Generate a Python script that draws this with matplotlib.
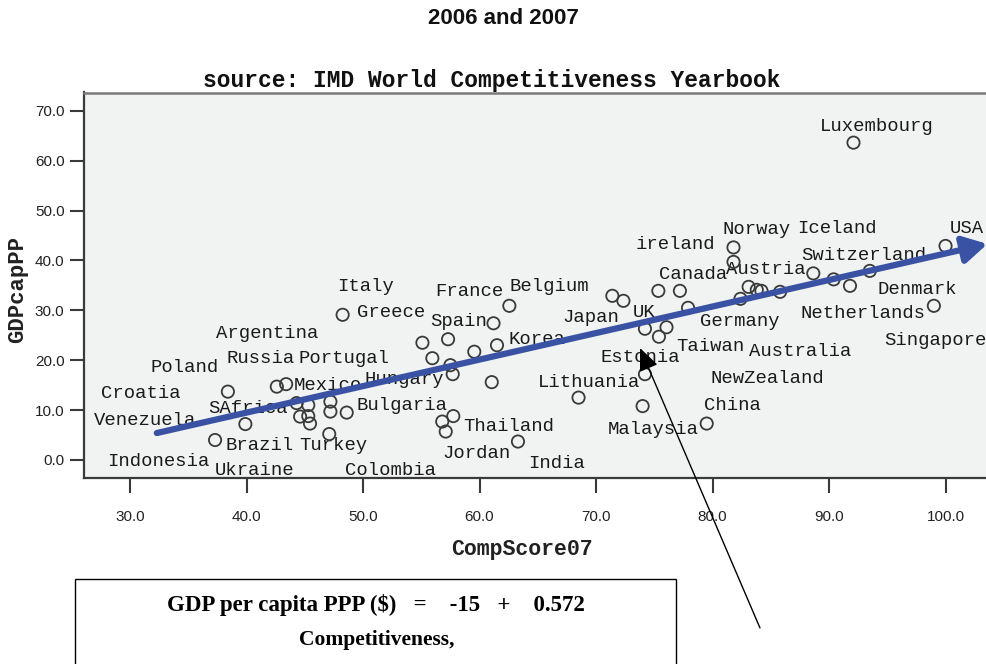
import matplotlib
matplotlib.use('Agg')
import matplotlib.pyplot as plt
from matplotlib.patches import Rectangle

# ---------------- data ----------------
comp_score = [92.1, 100.0, 81.8, 81.8, 88.65, 90.4, 91.8, 93.5, 99.0, 83.1,
              83.8, 84.2, 85.8, 82.4, 71.4, 72.35, 75.35, 77.2, 77.9, 74.2,
              76.05, 75.4, 62.56, 61.2, 57.3, 55.1, 61.5, 59.55, 55.95, 57.5,
              57.7, 61.05, 68.5, 74.2, 74.0, 79.5, 57.75, 56.8, 57.1, 63.3,
              48.25, 38.4, 42.6, 43.4, 44.3, 45.3, 44.6, 45.3, 45.45, 47.2,
              47.2, 48.6, 47.1, 39.9, 37.3]
gdp_cap = [63.6, 42.9, 42.6, 39.7, 37.4, 36.2, 34.9, 37.9, 30.9, 34.7,
           34.1, 33.9, 33.7, 32.3, 32.9, 31.9, 33.9, 33.9, 30.5, 26.3,
           26.6, 24.7, 30.9, 27.4, 24.2, 23.5, 23.0, 21.7, 20.4, 19.0,
           17.2, 15.6, 12.5, 17.2, 10.8, 7.3, 8.8, 7.7, 5.7, 3.7,
           29.1, 13.7, 14.7, 15.2, 11.4, 11.0, 8.7, 8.8, 7.3, 11.7,
           9.7, 9.5, 5.2, 7.2, 4.0]

countries = ['Luxembourg', 'Norway', 'Iceland', 'USA', 'ireland', 'Switzerland',
             'Austria', 'Canada', 'Denmark', 'Belgium', 'France', 'Italy',
             'Greece', 'Netherlands', 'Spain', 'Japan', 'UK', 'Germany',
             'Argentina', 'Korea', 'Singapore', 'Taiwan', 'Australia', 'Estonia',
             'Russia', 'Portugal', 'Poland', 'Hungary', 'Mexico', 'Lithuania',
             'NewZealand', 'Croatia', 'SAfrica', 'Bulgaria', 'China', 'Venezuela',
             'Thailand', 'Malaysia', 'Brazil', 'Turkey', 'Jordan', 'Indonesia',
             'Ukraine', 'India', 'Colombia']
label_x = [94.12, 83.78, 90.64, 101.85, 76.82, 93.0,
           84.59, 78.37, 97.6, 66.01, 59.14, 50.21,
           52.40, 92.88, 58.24, 69.53, 74.12, 82.32,
           41.80, 64.94, 99.14, 79.79, 87.55, 73.78,
           41.24, 48.41, 34.68, 53.52, 46.95, 69.36,
           84.72, 30.94, 40.09, 53.35, 81.72, 31.33,
           62.53, 74.94, 41.16, 47.42, 59.70, 32.40,
           40.73, 66.65, 52.40]
label_y = [66.93, 46.29, 46.49, 46.49, 43.09, 41.08,
           38.08, 37.27, 34.07, 34.67, 33.67, 34.67,
           29.46, 29.26, 27.66, 28.46, 29.46, 27.66,
           25.45, 24.05, 23.85, 22.65, 21.84, 20.44,
           20.24, 20.24, 18.44, 16.23, 14.83, 15.43,
           16.43, 13.23, 10.22, 10.82, 10.82, 7.82,
           6.81, 6.01, 2.81, 2.81, 1.20, -0.40,
           -2.20, -0.80, -2.20]

x_ticks = [30, 40, 50, 60, 70, 80, 90, 100]
y_ticks = [0, 10, 20, 30, 40, 50, 60, 70]

trend_x = [32.3, 103.6]      # hand-drawn trend arrow
trend_y = [5.4, 43.3]
eq_intercept = -15
eq_slope = 0.572

title_main = '2006 and 2007'
title_source = 'source: IMD World Competitiveness Yearbook'
x_label = 'CompScore07'
y_label = 'GDPcapPP'

# ---------------- figure ----------------
W, H = 987, 664
fig = plt.figure(figsize=(W / 100, H / 100), dpi=100)
fig.patch.set_facecolor('white')

ax = fig.add_axes([84 / W, 1 - 478 / H, 1 - 84 / W, (478 - 92.5) / H])
ax.set_facecolor('#f1f2f2')
ax.set_xlim(26.05, 103.56)
ax.set_ylim(-3.61, 73.65)

for side in ['left', 'bottom']:
    ax.spines[side].set_color('#3a3a3a')
    ax.spines[side].set_linewidth(1.6)
ax.spines['top'].set_color('#7a7a7a')
ax.spines['top'].set_linewidth(1.8)
ax.spines['right'].set_visible(False)

mono = ['Liberation Mono', 'DejaVu Sans Mono']
sans = ['Liberation Sans', 'DejaVu Sans']

ax.set_xticks(x_ticks)
ax.set_yticks(y_ticks)
ax.set_xticklabels([f'{v:.1f}' for v in x_ticks], fontfamily=sans, fontsize=11, color='#222222')
ax.set_yticklabels([f'{v:.1f}' for v in y_ticks], fontfamily=sans, fontsize=11, color='#222222')
ax.tick_params(axis='x', direction='out', length=11, width=1.5, pad=12, color='#3a3a3a')
ax.tick_params(axis='y', direction='out', length=10, width=1.5, pad=4, color='#3a3a3a')

ax.scatter(comp_score, gdp_cap, s=78, facecolors='none', edgecolors='#3a3a3a',
           linewidths=1.3, zorder=3)

for name, lx, ly in zip(countries, label_x, label_y):
    ax.text(lx, ly, name, ha='center', va='center', fontfamily=mono,
            fontsize=13.6, color='#1a1a1a', zorder=2, clip_on=False)

ax.annotate('', xy=(trend_x[1], trend_y[1]), xytext=(trend_x[0], trend_y[0]),
            arrowprops=dict(arrowstyle='-|>,head_length=0.8,head_width=0.45',
                            lw=4.5, color='#3a52a3', mutation_scale=18,
                            shrinkA=0, shrinkB=0),
            annotation_clip=False, zorder=5)

# titles and axis labels
fig.text(503 / W, 1 - 18 / H, title_main, ha='center', va='center',
         fontfamily=sans, fontsize=16, fontweight='bold', color='#111111')
fig.text(492 / W, 1 - 80 / H, title_source, ha='center', va='center',
         fontfamily=mono, fontsize=16.5, fontweight='bold', color='#111111')
fig.text(522 / W, 1 - 549 / H, x_label, ha='center', va='center',
         fontfamily=mono, fontsize=15.5, fontweight='bold', color='#222222')
fig.text(18 / W, 1 - 289 / H, y_label, ha='center', va='center', rotation=90,
         fontfamily=mono, fontsize=16, fontweight='bold', color='#222222')

# equation box
fig.add_artist(Rectangle((75 / W, -0.05), (676 - 75) / W, (664 - 579) / H + 0.05,
                         transform=fig.transFigure, fill=False, lw=1.0, ec='black'))
serif = ['Liberation Serif', 'DejaVu Serif']
fig.text(376 / W, 1 - 605 / H,
         r'GDP per capita PPP (\$)   =    %d   +    %.3f' % (eq_intercept, eq_slope),
         ha='center', va='center', fontfamily=serif, fontsize=16.5, fontweight='bold')
fig.text(377 / W, 1 - 640 / H, 'Competitiveness,', ha='center', va='center',
         fontfamily=serif, fontsize=15.5, fontweight='bold')

# thin pointer arrow
ax.annotate('', xy=(640, H - 348), xytext=(760, H - 628),
            xycoords='figure pixels', textcoords='figure pixels',
            arrowprops=dict(arrowstyle='-|>,head_length=0.7,head_width=0.3',
                            lw=1.0, color='black', mutation_scale=20,
                            shrinkA=0, shrinkB=0),
            annotation_clip=False, zorder=6)

fig.savefig('out.png', dpi=100)
